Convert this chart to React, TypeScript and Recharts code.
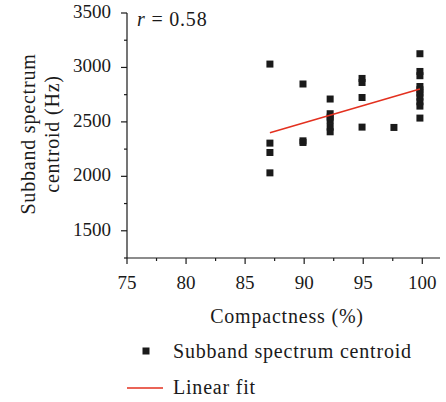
import { ScatterChart, Scatter, XAxis, YAxis } from 'recharts'

// compactness (%) vs subband spectrum centroid (Hz)
const compactness = [
  87.1, 87.1, 87.1, 87.1,
  89.9, 89.9, 89.9,
  92.2, 92.2, 92.2, 92.2, 92.2, 92.2,
  94.9, 94.9, 94.9, 94.9,
  97.6,
  99.8, 99.8, 99.8, 99.8, 99.8, 99.8, 99.8, 99.8, 99.8, 99.8,
]
const centroid = [
  3031, 2305, 2219, 2032,
  2848, 2326, 2311,
  2710, 2575, 2544, 2513, 2452, 2409,
  2899, 2862, 2724, 2452,
  2449,
  3126, 2963, 2924, 2825, 2795, 2765, 2728, 2685, 2645, 2535,
]
const fitX = [87.1, 99.8]
const fitY = [2400, 2802]

const xTicks = [75, 77.5, 80, 82.5, 85, 87.5, 90, 92.5, 95, 97.5, 100]
const yTicks = [1250, 1500, 1750, 2000, 2250, 2500, 2750, 3000, 3250, 3500]

const points = compactness.map((x, i) => ({ x, y: centroid[i] }))
const fit = fitX.map((x, i) => ({ x, y: fitY[i] }))

const FONT = '"Liberation Serif", "DejaVu Serif", serif'
const INK = '#1a1a1a'
const RED = '#e3301f'

function XTick({ x, y, payload }: any) {
  const major = payload.value % 5 === 0
  return (
    <g>
      <line x1={x} x2={x} y1={y} y2={y + (major ? 6 : 3)} stroke={INK} strokeWidth={1.2} />
      {major && (
        <text x={x} y={y + 31} textAnchor="middle" fill={INK} fontSize={19} fontFamily={FONT}>
          {payload.value}
        </text>
      )}
    </g>
  )
}

function YTick({ x, y, payload }: any) {
  const major = payload.value % 500 === 0
  return (
    <g>
      <line x1={x} x2={x - (major ? 6 : 3)} y1={y} y2={y} stroke={INK} strokeWidth={1.2} />
      {major && (
        <text x={x - 16} y={y + 5} textAnchor="end" fill={INK} fontSize={19} fontFamily={FONT}>
          {payload.value}
        </text>
      )}
    </g>
  )
}

const Square = ({ cx, cy }: any) => (
  <rect x={cx - 3.5} y={cy - 3.5} width={7} height={7} fill={INK} />
)

export default function App() {
  const title = { fontSize: 20, letterSpacing: 0.8, fill: INK }
  return (
    <div style={{ position: 'absolute', left: 0, top: 0, width: 446, height: 402, background: '#fff' }}>
      <ScatterChart width={446} height={402} margin={{ top: 13, right: 6, bottom: 114, left: 67 }}>
        <XAxis
          type="number"
          dataKey="x"
          domain={[75, 101.5]}
          ticks={xTicks}
          allowDataOverflow
          height={30}
          tickSize={0}
          tickMargin={0}
          tickLine={false}
          axisLine={{ stroke: INK, strokeWidth: 1.2 }}
          tick={<XTick />}
          interval={0}
        />
        <YAxis
          type="number"
          dataKey="y"
          domain={[1250, 3500]}
          ticks={yTicks}
          allowDataOverflow
          width={60}
          tickSize={0}
          tickMargin={0}
          tickLine={false}
          axisLine={{ stroke: INK, strokeWidth: 1.2 }}
          tick={<YTick />}
          interval={0}
        />
        <Scatter data={points} shape={<Square />} isAnimationActive={false} />
        <Scatter
          data={fit}
          line={{ stroke: RED, strokeWidth: 1.5 }}
          shape={() => <g />}
          isAnimationActive={false}
        />
      </ScatterChart>
      <svg
        width={446}
        height={402}
        style={{ position: 'absolute', left: 0, top: 0, pointerEvents: 'none', fontFamily: FONT }}
      >
        <text x={137} y={26} {...title}>
          <tspan fontStyle="italic">r</tspan> = 0.58
        </text>
        <text x={287} y={323} textAnchor="middle" {...title}>Compactness (%)</text>
        <text transform="translate(35, 134) rotate(-90)" textAnchor="middle" {...title}>
          Subband spectrum
        </text>
        <text transform="translate(59, 134) rotate(-90)" textAnchor="middle" {...title}>
          centroid (Hz)
        </text>
        {/* legend */}
        <rect x={142.5} y={347.5} width={7} height={7} fill={INK} />
        <text x={173} y={358} {...title}>Subband spectrum centroid</text>
        <line x1={127} x2={163} y1={388} y2={388} stroke={RED} strokeWidth={1.5} />
        <text x={173} y={394} {...title}>Linear fit</text>
      </svg>
    </div>
  )
}
